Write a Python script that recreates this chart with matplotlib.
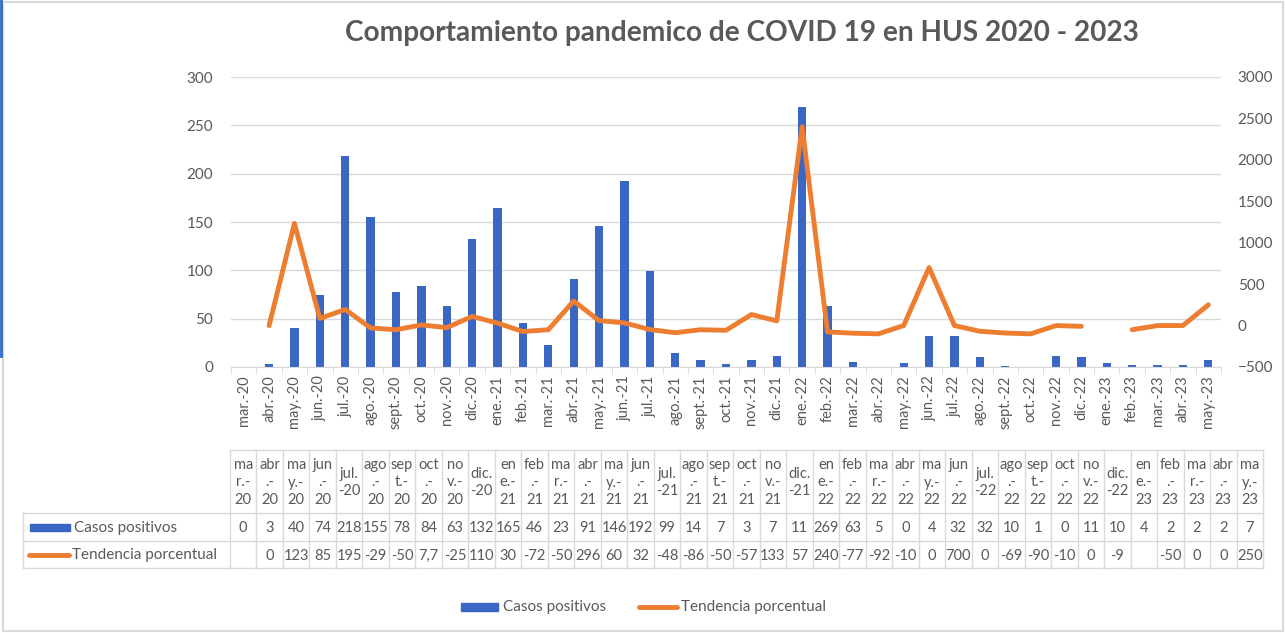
import numpy as np
import matplotlib
matplotlib.use("Agg")
import matplotlib.pyplot as plt
from matplotlib.patches import Rectangle

plt.rcParams['font.family'] = ['Lato', 'DejaVu Sans']

# --- data ---
meses = ['mar', 'abr', 'may', 'jun', 'jul', 'ago', 'sept', 'oct', 'nov', 'dic',
         'ene', 'feb', 'mar', 'abr', 'may', 'jun', 'jul', 'ago', 'sept', 'oct', 'nov', 'dic',
         'ene', 'feb', 'mar', 'abr', 'may', 'jun', 'jul', 'ago', 'sept', 'oct', 'nov', 'dic',
         'ene', 'feb', 'mar', 'abr', 'may']
anios = ['20'] * 10 + ['21'] * 12 + ['22'] * 12 + ['23'] * 5
casos = [0, 3, 40, 74, 218, 155, 78, 84, 63, 132,
         165, 46, 23, 91, 146, 192, 99, 14, 7, 3, 7, 11,
         269, 63, 5, 0, 4, 32, 32, 10, 1, 0, 11, 10,
         4, 2, 2, 2, 7]
# tendencia porcentual (valor graficado); nan = sin dato
tendencia = [np.nan, 0, 1233, 85, 195, -29, -50, 7.7, -25, 110,
             30, -72, -50, 296, 60, 32, -48, -86, -50, -57, 133, 57,
             2400, -77, -92, -100, 0, 700, 0, -69, -90, -100, 0, -9,
             np.nan, -50, 0, 0, 250]
# como aparece en la tabla de datos (recortado por el ancho de celda)
tendencia_txt = ['', '0', '123', '85', '195', '-29', '-50', '7,7', '-25', '110',
                 '30', '-72', '-50', '296', '60', '32', '-48', '-86', '-50', '-57', '133', '57',
                 '240', '-77', '-92', '-10', '0', '700', '0', '-69', '-90', '-10', '0', '-9',
                 '', '-50', '0', '0', '250']

# cortes de linea de los encabezados de la tabla
corte = {'mar': 'ma\nr.-', 'abr': 'abr\n.-', 'may': 'ma\ny.-', 'jun': 'jun\n.-',
         'jul': 'jul.\n-', 'ago': 'ago\n.-', 'sept': 'sep\nt.-', 'oct': 'oct\n.-',
         'nov': 'no\nv.-', 'dic': 'dic.\n-', 'ene': 'en\ne.-', 'feb': 'feb\n.-'}

etiquetas = [f"{m}.-{a}" for m, a in zip(meses, anios)]
encabezados = []
for m, a in zip(meses, anios):
    c = corte[m]
    encabezados.append(c + a if c.endswith('\n-') else c + '\n' + a)

AZUL = '#3A66C4'
NARANJA = '#ED7D31'
GRIS = '#595959'
GRID = '#D9D9D9'

W, H = 1285, 633
fig = plt.figure(figsize=(W / 100, H / 100), dpi=100)
fig.patch.set_facecolor('white')

x = np.arange(len(casos))
ax = fig.add_axes([231 / W, 1 - 367 / H, 990 / W, 290 / H])
ax.bar(x, casos, width=0.33, color=AZUL, zorder=2)
ax.set_xlim(-0.5, len(casos) - 0.5)
ax.set_ylim(0, 300)
ax.set_yticks(range(0, 301, 50))
ax.yaxis.grid(True, color=GRID, lw=1, zorder=0)
ax.set_axisbelow(True)
for s in ['top', 'left', 'right']:
    ax.spines[s].set_visible(False)
ax.spines['bottom'].set_color(GRID)
ax.set_xticks(x)
ax.set_xticklabels(etiquetas, rotation=90, fontsize=10.5, color=GRIS)
ax.set_xticks(np.arange(-0.5, len(casos), 1), minor=True)
ax.tick_params(axis='x', which='major', length=0, pad=6)
ax.tick_params(axis='x', which='minor', length=5, color=GRID)
ax.tick_params(axis='y', length=0, labelsize=11, labelcolor=GRIS, pad=13)

ax2 = ax.twinx()
ax2.plot(x, tendencia, color=NARANJA, lw=3.5, solid_joinstyle='round', solid_capstyle='round')
ax2.set_ylim(-500, 3000)
ax2.set_yticks(range(-500, 3001, 500))
for s in ax2.spines.values():
    s.set_visible(False)
ax2.tick_params(axis='y', length=0, labelsize=11, labelcolor=GRIS, pad=12)

fig.text(742 / W, 1 - 33 / H, 'Comportamiento pandemico de COVID 19 en HUS 2020 - 2023',
         ha='center', va='center', fontsize=20.2, fontweight='bold', color=GRIS)

# --- tabla de datos (coordenadas en pixeles) ---
t = fig.add_axes([0, 0, 1, 1])
t.set_xlim(0, W)
t.set_ylim(H, 0)
t.axis('off')
t.patch.set_alpha(0)

x0, x1 = 230, 1263
cw = (x1 - x0) / len(casos)
y_top, y_h, y_c, y_t = 450, 513, 541, 568
lw = 1
t.plot([x0, x1], [y_top, y_top], color=GRID, lw=lw)
for yy in (y_h, y_c, y_t):
    t.plot([23, x1], [yy, yy], color=GRID, lw=lw)
t.plot([23, 23], [y_h, y_t], color=GRID, lw=lw)
for i in range(len(casos) + 1):
    xx = x0 + i * cw
    t.plot([xx, xx], [y_top, y_t], color=GRID, lw=lw)
for i in range(len(casos)):
    cx = x0 + (i + 0.5) * cw
    t.text(cx, (y_top + y_h) / 2 + 1, encabezados[i], ha='center', va='center',
           fontsize=10.5, color=GRIS, linespacing=1.3)
    t.text(cx, (y_h + y_c) / 2 + 1, str(casos[i]), ha='center', va='center',
           fontsize=10.5, color=GRIS)
    t.text(cx, (y_c + y_t) / 2 + 1, tendencia_txt[i], ha='center', va='center',
           fontsize=10.5, color=GRIS)

t.add_patch(Rectangle((30, 524), 40, 7, color=AZUL))
t.text(74, (y_h + y_c) / 2 + 1, 'Casos positivos', ha='left', va='center', fontsize=11, color=GRIS)
t.plot([29, 69], [555, 555], color=NARANJA, lw=3.5, solid_capstyle='round')
t.text(72, (y_c + y_t) / 2 + 1, 'Tendencia porcentual', ha='left', va='center', fontsize=11, color=GRIS)

# leyenda inferior
t.add_patch(Rectangle((461, 603), 37, 8, color=AZUL))
t.text(503, 607, 'Casos positivos', ha='left', va='center', fontsize=11, color=GRIS)
t.plot([639, 677], [607, 607], color=NARANJA, lw=3.5, solid_capstyle='round')
t.text(681, 607, 'Tendencia porcentual', ha='left', va='center', fontsize=11, color=GRIS)

# marco
t.add_patch(Rectangle((3, 2), W - 5, H - 4, fill=False, edgecolor=GRID, lw=1.5))
t.plot([1, 1], [0, 356], color='#2E6BC6', lw=2)

fig.savefig('out.png', dpi=100, facecolor='white')
